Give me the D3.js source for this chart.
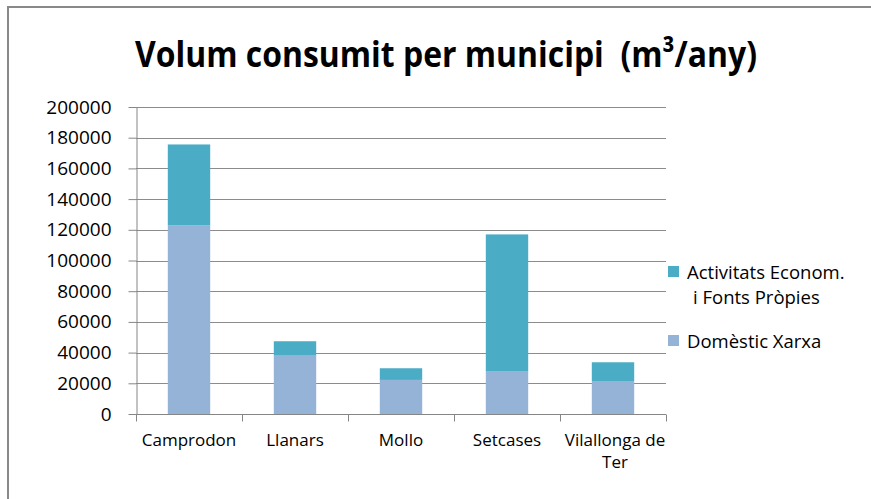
<!DOCTYPE html>
<html>
<head>
<meta charset="utf-8">
<script src="https://cdn.jsdelivr.net/npm/d3@7"></script>
<style>
  html, body { margin: 0; padding: 0; background: #fff; }
  svg { display: block; }
  text { font-family: "Open Sans", "DejaVu Sans", sans-serif; fill: #000; }
</style>
</head>
<body>
<svg id="chart" width="871" height="499"></svg>
<script>
// Water volume consumed per municipality (m³/year)
const municipis = ["Camprodon", "Llanars", "Mollo", "Setcases", "Vilallonga de Ter"];
const domestic = [123000, 38000, 22200, 27600, 21500];
const activitats = [52600, 9400, 7600, 89400, 12200];
const yTicks = [0, 20000, 40000, 60000, 80000, 100000, 120000, 140000, 160000, 180000, 200000];
const seriesNames = ["Domèstic Xarxa", "Activitats Econom. i Fonts Pròpies"];
const seriesColors = ["#95B3D7", "#4BACC6"];

const svg = d3.select("#chart");

// chart area frame
svg.append("rect")
  .attr("x", 8).attr("y", 7)
  .attr("width", 900).attr("height", 520)
  .attr("fill", "#fff")
  .attr("stroke", "#898989")
  .attr("stroke-width", 2);

const plot = { left: 136, right: 666, top: 107, bottom: 414 };

const x = d3.scaleBand()
  .domain(municipis)
  .range([plot.left, plot.right])
  .paddingInner(0.6)
  .paddingOuter(0.3);

const y = d3.scaleLinear()
  .domain([0, 200000])
  .range([plot.bottom, plot.top]);

// horizontal gridlines
svg.append("g")
  .selectAll("line")
  .data(yTicks)
  .join("line")
  .attr("x1", plot.left).attr("x2", plot.right)
  .attr("y1", d => Math.round(y(d)) + 0.5)
  .attr("y2", d => Math.round(y(d)) + 0.5)
  .attr("stroke", "#8c8c8c")
  .attr("stroke-width", 1);

// stacked data
const rows = municipis.map((m, i) => ({ m, dom: domestic[i], act: activitats[i] }));
const stack = d3.stack().keys(["dom", "act"])(rows);

svg.append("g")
  .selectAll("g")
  .data(stack)
  .join("g")
  .attr("fill", (d, i) => seriesColors[i])
  .selectAll("rect")
  .data(d => d)
  .join("rect")
  .attr("x", d => x(d.data.m))
  .attr("width", x.bandwidth())
  .attr("y", d => y(d[1]))
  .attr("height", d => y(d[0]) - y(d[1]));

// y axis
const yAxis = svg.append("g")
  .attr("transform", `translate(${plot.left + 0.5},0)`)
  .call(d3.axisLeft(y).tickValues(yTicks).tickFormat(d3.format("d")).tickSize(8).tickSizeOuter(0).tickPadding(17));
yAxis.select(".domain").attr("stroke", "#868686");
yAxis.selectAll(".tick line").attr("stroke", "#868686");
yAxis.selectAll(".tick text")
  .attr("font-size", 19)
  .attr("fill", "#000")
  .style("font-family", "'Open Sans', sans-serif");

// x axis with ticks at category boundaries
const xAxisG = svg.append("g")
  .attr("transform", `translate(0,${plot.bottom + 0.5})`);
xAxisG.append("line")
  .attr("x1", plot.left).attr("x2", plot.right)
  .attr("stroke", "#868686");
const step = x.step();
const bounds = d3.range(municipis.length + 1).map(i => plot.left + i * step);
xAxisG.selectAll("line.tk")
  .data(bounds)
  .join("line")
  .attr("class", "tk")
  .attr("x1", d => Math.round(d) + 0.5).attr("x2", d => Math.round(d) + 0.5)
  .attr("y1", 0).attr("y2", 7)
  .attr("stroke", "#868686");

// category labels (wrapped within each category)
const catLines = municipis.map(m => m === "Vilallonga de Ter" ? ["Vilallonga de", "Ter"] : [m]);
const catLabels = svg.append("g")
  .selectAll("text")
  .data(municipis)
  .join("text")
  .attr("x", d => x(d) + x.bandwidth() / 2)
  .attr("y", 446)
  .attr("text-anchor", "middle")
  .attr("font-size", 17);
catLabels.each(function (d, i) {
  d3.select(this).selectAll("tspan")
    .data(catLines[i])
    .join("tspan")
    .attr("x", x(d) + x.bandwidth() / 2 + (catLines[i].length > 1 ? 2 : 0))
    .attr("dy", (t, j) => j === 0 ? 0 : 22)
    .text(t => t);
});

// title
svg.append("text")
  .attr("x", 446)
  .attr("y", 67)
  .attr("text-anchor", "middle")
  .attr("font-size", 36)
  .attr("font-weight", "bold")
  .attr("textLength", 622)
  .attr("lengthAdjust", "spacingAndGlyphs")
  .style("white-space", "pre")
  .text("Volum consumit per municipi  (m³/any)");

// legend
const legend = svg.append("g");
const legendItems = [
  { name: seriesNames[1], color: seriesColors[1], lines: ["Activitats Econom.", "i Fonts Pròpies"], y: 266 },
  { name: seriesNames[0], color: seriesColors[0], lines: ["Domèstic Xarxa"], y: 335 }
];
legendItems.forEach(it => {
  legend.append("rect")
    .attr("x", 668).attr("y", it.y)
    .attr("width", 11).attr("height", 11)
    .attr("fill", it.color);
  const t = legend.append("text")
    .attr("y", it.y + 13)
    .attr("font-size", 18.5);
  it.lines.forEach((ln, j) => {
    t.append("tspan")
      .attr("x", j === 0 ? 687 : 693)
      .attr("dy", j === 0 ? 0 : 25)
      .text(ln);
  });
});
</script>
</body>
</html>
